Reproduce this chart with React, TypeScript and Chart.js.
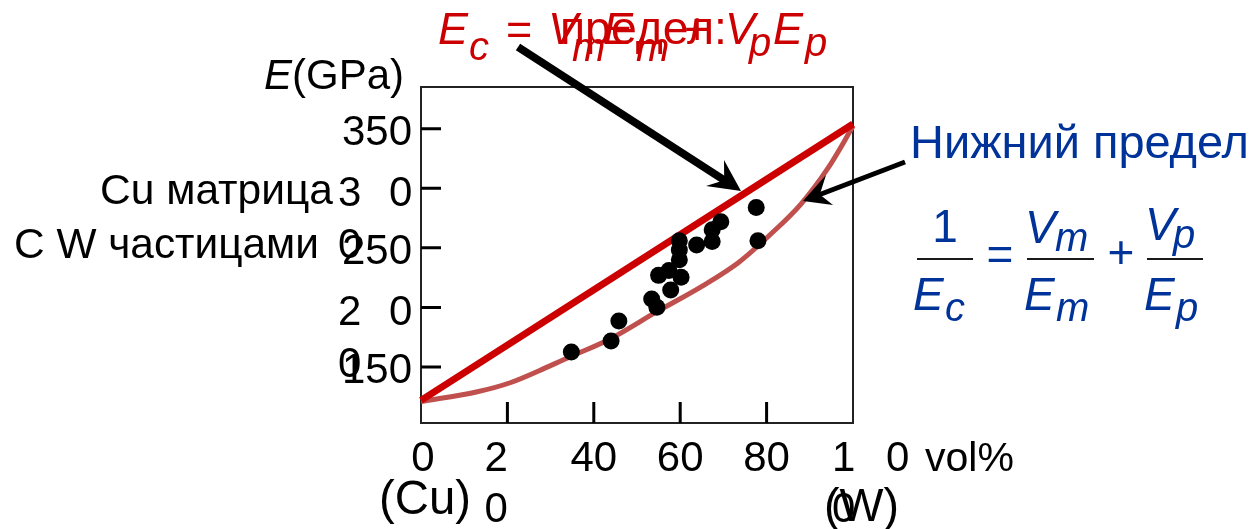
import React, { useEffect, useRef } from "react";
import { Chart, registerables } from "chart.js";
Chart.register(...registerables);

// ---- data ----
const upperX = [0, 100];
const upperY = [122, 354];
const lowerX = [0, 12.8, 20.8, 29.6, 34.8, 44, 54.4, 65.6, 73.6, 80.8, 88, 94.4, 100];
const lowerY = [121, 129, 137, 150.5, 159, 174, 196, 219, 238, 261, 287, 318, 352];
const pointsX = [34.8, 44, 45.8, 53.4, 54.6, 57.8, 55, 57.4, 60.2, 59.8, 59.8, 59.8, 63.8, 67.4, 67.4, 69.4, 77.6, 78];
const pointsY = [162.6, 171.8, 188.7, 207, 200.2, 214.7, 226.9, 230.9, 225.3, 240, 248.2, 256, 252.4, 255.4, 265.2, 271.9, 283.9, 256];
const yTicks = [150, 200, 250, 300, 350];
const xTicks = [20, 40, 60, 80];
const xMin = 0;
const xMax = 100;
const yMin = 103;
const yMax = 385;

const FONT = '"Liberation Sans", Arial, Helvetica, sans-serif';
const RED = "#CC0000";
const LOWER = "#C0504D";
const BLUE = "#003399";

function put(ctx: CanvasRenderingContext2D, s: string, x: number, y: number, size: number, color: string, opts: { italic?: boolean; align?: CanvasTextAlign } = {}) {
  ctx.font = `${opts.italic ? "italic " : ""}${size}px ${FONT}`;
  ctx.fillStyle = color;
  ctx.textAlign = opts.align || "left";
  ctx.textBaseline = "alphabetic";
  ctx.fillText(s, x, y);
}

function fit(ctx: CanvasRenderingContext2D, s: string, left: number, right: number, y: number, base: number, color: string, italic = false) {
  ctx.font = `${italic ? "italic " : ""}${base}px ${FONT}`;
  const w = ctx.measureText(s).width;
  const size = Math.max(10, Math.min(base * 1.25, (base * (right - left)) / w));
  put(ctx, s, left, y, size, color, { italic });
}

function arrow(ctx: CanvasRenderingContext2D, x0: number, y0: number, tx: number, ty: number, b1: [number, number], b2: [number, number], lw: number, notchBack: number) {
  const dx = tx - x0, dy = ty - y0;
  const L = Math.hypot(dx, dy);
  const ux = dx / L, uy = dy / L;
  const nx = tx - ux * notchBack, ny = ty - uy * notchBack;
  ctx.save();
  ctx.strokeStyle = "#000";
  ctx.fillStyle = "#000";
  ctx.lineWidth = lw;
  ctx.lineCap = "butt";
  ctx.beginPath();
  ctx.moveTo(x0, y0);
  ctx.lineTo(nx + ux * 2, ny + uy * 2);
  ctx.stroke();
  ctx.beginPath();
  ctx.moveTo(tx, ty);
  ctx.lineTo(b1[0], b1[1]);
  ctx.lineTo(nx, ny);
  ctx.lineTo(b2[0], b2[1]);
  ctx.closePath();
  ctx.fill();
  ctx.restore();
}

const framePlugin = {
  id: "frame",
  beforeDatasetsDraw(chart: any) {
    const { ctx, chartArea: a, scales } = chart;
    ctx.save();
    ctx.strokeStyle = "#222";
    ctx.lineWidth = 2;
    ctx.strokeRect(a.left, a.top, a.right - a.left, a.bottom - a.top);
    ctx.strokeStyle = "#000";
    ctx.lineWidth = 3;
    ctx.beginPath();
    yTicks.forEach((v) => {
      const py = scales.y.getPixelForValue(v);
      ctx.moveTo(a.left, py);
      ctx.lineTo(a.left + 20, py);
    });
    xTicks.forEach((v) => {
      const px = scales.x.getPixelForValue(v);
      ctx.moveTo(px, a.bottom);
      ctx.lineTo(px, a.bottom - 21);
    });
    ctx.stroke();
    ctx.restore();
  },
};

const overlayPlugin = {
  id: "overlay",
  afterDraw(chart: any) {
    const { ctx, chartArea: a, scales } = chart;
    const X = (v: number) => scales.x.getPixelForValue(v);
    const Y = (v: number) => scales.y.getPixelForValue(v);
    ctx.save();
    const TS = 42;
    const K = "#000";

    // y tick labels (as they appear in the reference, with the wrapped zeros)
    yTicks.forEach((v) => {
      const s = String(v);
      const py = Y(v);
      if (v === 300 || v === 200) {
        put(ctx, s[0], 338, py + 18, TS, K);
        put(ctx, s[2], 389, py + 18, TS, K);
        put(ctx, s[1], 338, py + 70, TS, K);
      } else {
        put(ctx, s, a.left - 9, py + 16, TS, K, { align: "right" });
      }
    });

    // x tick labels
    const bx = 471;
    put(ctx, "0", X(0) + 2, bx, TS, K, { align: "center" });
    xTicks.forEach((v) => {
      const s = String(v);
      if (v === 20) {
        put(ctx, s[0], X(v) - 23, bx, TS, K);
        put(ctx, s[1], X(v) - 23, bx + 51, TS, K);
      } else {
        put(ctx, s, X(v), bx, TS, K, { align: "center" });
      }
    });
    const hundred = String(xMax);
    put(ctx, hundred[0], X(xMax) - 21, bx, TS, K);
    put(ctx, hundred[2], X(xMax) + 33, bx, TS, K);
    put(ctx, hundred[1], X(xMax) - 21, bx + 51, TS, K);
    fit(ctx, "vol%", 925, 1014, bx, TS, K);
    fit(ctx, "(Cu)", 379, 471, 514, TS, K);
    fit(ctx, "(W)", 824, 899, 521, TS, K);

    // y axis title
    ctx.font = `${TS}px ${FONT}`;
    const wG = ctx.measureText("(GPa)").width;
    put(ctx, "(GPa)", 404, 89, TS, K, { align: "right" });
    put(ctx, "E", 404 - wG, 89, TS, K, { align: "right", italic: true });

    // left side annotation
    fit(ctx, "Cu матрица", 100, 333, 204, TS, K);
    fit(ctx, "C W частицами", 14, 319, 258, TS, K);

    // title formula (upper bound) with overlapping text
    const TT = 45, TSub = 40;
    put(ctx, "E", 438, 44, TT, RED, { italic: true });
    put(ctx, "c", 469, 60, TSub, RED, { italic: true });
    put(ctx, "=", 506, 44, TT, RED);
    put(ctx, "V", 548, 44, TT, RED, { italic: true });
    put(ctx, "m", 572, 61, TSub, RED, { italic: true });
    put(ctx, "E", 603, 44, TT, RED, { italic: true });
    put(ctx, "m", 636, 61, TSub, RED, { italic: true });
    put(ctx, "+", 684, 44, TT, RED);
    put(ctx, "V", 725, 44, TT, RED, { italic: true });
    put(ctx, "p", 749, 56, TSub, RED, { italic: true });
    put(ctx, "E", 773, 44, TT, RED, { italic: true });
    put(ctx, "p", 805, 56, TSub, RED, { italic: true });
    fit(ctx, "предел:", 560, 727, 44, TT, RED);

    // lower bound label and formula
    fit(ctx, "Нижний предел", 910, 1249, 158, 44, BLUE);
    const FM = 46, FS = 40;
    put(ctx, "1", 945, 242, FM, BLUE, { align: "center" });
    put(ctx, "E", 913, 310, FM, BLUE, { italic: true });
    put(ctx, "c", 945, 321, FS, BLUE, { italic: true });
    put(ctx, "=", 1000, 270, FM, BLUE, { align: "center" });
    put(ctx, "V", 1025, 243, FM, BLUE, { italic: true });
    put(ctx, "m", 1055, 251, FS, BLUE, { italic: true });
    put(ctx, "E", 1024, 310, FM, BLUE, { italic: true });
    put(ctx, "m", 1056, 321, FS, BLUE, { italic: true });
    put(ctx, "+", 1121, 268, FM, BLUE, { align: "center" });
    put(ctx, "V", 1145, 240, FM, BLUE, { italic: true });
    put(ctx, "p", 1173, 248, FS, BLUE, { italic: true });
    put(ctx, "E", 1144, 310, FM, BLUE, { italic: true });
    put(ctx, "p", 1176, 321, FS, BLUE, { italic: true });
    ctx.fillStyle = "#1a1a1a";
    ctx.fillRect(917, 258, 56, 2);
    ctx.fillRect(1027, 258, 67, 2);
    ctx.fillRect(1147, 258, 56, 2);

    // arrows
    arrow(ctx, 518, 47, 741, 191, [706, 186], [724, 160], 8, 20);
    arrow(ctx, 905, 162, 803, 201, [826, 175], [833, 205], 5, 18);

    ctx.restore();
  },
};

export default function App() {
  const ref = useRef<HTMLCanvasElement | null>(null);
  useEffect(() => {
    const canvas = ref.current;
    if (!canvas) return;
    const chart = new Chart(canvas, {
      type: "scatter",
      data: {
        datasets: [
          {
            label: "Эксперимент",
            data: pointsX.map((x, i) => ({ x, y: pointsY[i] })),
            backgroundColor: "#000",
            borderColor: "#000",
            pointRadius: 8.5,
            pointBorderWidth: 0,
            showLine: false,
            clip: false,
          } as any,
          {
            label: "Верхний предел",
            data: upperX.map((x, i) => ({ x, y: upperY[i] })),
            showLine: true,
            borderColor: RED,
            backgroundColor: RED,
            borderWidth: 7,
            pointRadius: 0,
            clip: false,
          } as any,
          {
            label: "Нижний предел",
            data: lowerX.map((x, i) => ({ x, y: lowerY[i] })),
            showLine: true,
            borderColor: LOWER,
            backgroundColor: LOWER,
            borderWidth: 5,
            pointRadius: 0,
            cubicInterpolationMode: "monotone",
            clip: false,
          } as any,
        ],
      },
      options: {
        animation: false,
        responsive: false,
        maintainAspectRatio: false,
        events: [],
        layout: { padding: { left: 421, right: 401, top: 87, bottom: 106 } },
        plugins: { legend: { display: false }, tooltip: { enabled: false }, title: { display: false } },
        scales: {
          x: { type: "linear", min: xMin, max: xMax, display: false },
          y: { type: "linear", min: yMin, max: yMax, display: false },
        },
      },
      plugins: [framePlugin, overlayPlugin],
    });
    return () => chart.destroy();
  }, []);
  return (
    <div style={{ position: "absolute", left: 0, top: 0, width: 1254, height: 529, background: "#fff" }}>
      <canvas ref={ref} width={1254} height={529} style={{ display: "block", width: 1254, height: 529 }} />
    </div>
  );
}
